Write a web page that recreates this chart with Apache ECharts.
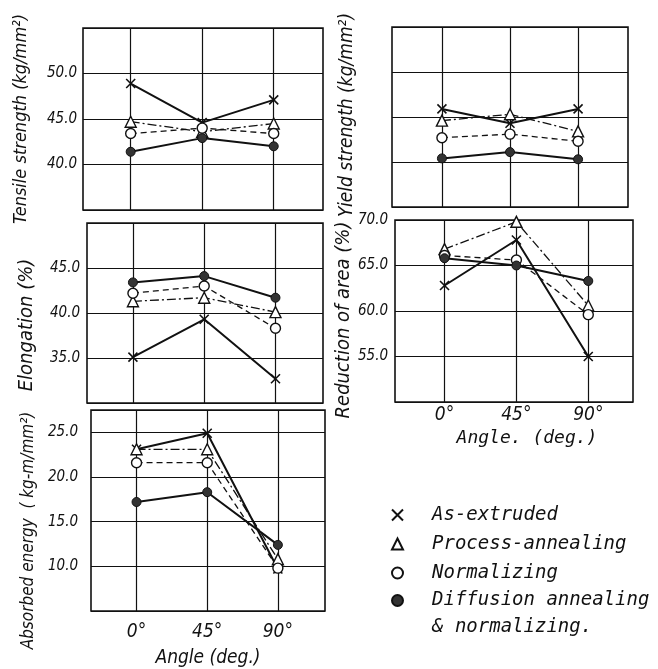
<!DOCTYPE html>
<html><head><meta charset="utf-8">
<script src="https://cdn.jsdelivr.net/npm/echarts@6/dist/echarts.min.js"></script>
<style>html,body{margin:0;padding:0;background:#fff}#c{width:658px;height:669px}</style>
</head><body><div id="c"></div>
<script>
// ---- data ----
const angles = [0, 45, 90];
const angleTicks = [0, 45, 90];
const seriesNames = ['As-extruded', 'Process-annealing', 'Normalizing', 'Diffusion annealing\n& normalizing.'];

const tensileAsExtruded = [48.9, 44.6, 47.1];
const tensileProcess    = [44.7, 43.6, 44.5];
const tensileNormal     = [43.4, 44.0, 43.4];
const tensileDiffusion  = [41.4, 42.9, 42.0];

const yieldAsExtruded = [45.9, 44.3, 45.9];
const yieldProcess    = [44.6, 45.3, 43.4];
const yieldNormal     = [42.7, 43.1, 42.3];
const yieldDiffusion  = [40.4, 41.1, 40.3];

const elongAsExtruded = [35.1, 39.3, 32.7];
const elongProcess    = [41.3, 41.7, 40.1];
const elongNormal     = [42.2, 43.0, 38.3];
const elongDiffusion  = [43.4, 44.1, 41.7];

const reductionAsExtruded = [62.8, 67.8, 55.0];
const reductionProcess    = [66.8, 69.8, 60.6];
const reductionNormal     = [66.1, 65.6, 59.6];
const reductionDiffusion  = [65.8, 65.0, 63.3];

const energyAsExtruded = [23.1, 24.9, 9.7];
const energyProcess    = [23.1, 23.1, 10.8];
const energyNormal     = [21.6, 21.6, 9.8];
const energyDiffusion  = [17.2, 18.3, 12.4];

// ---- styles / layout ----
const NUMFONT = "'Liberation Sans Narrow','DejaVu Sans Condensed',sans-serif";
const HAND = "'DejaVu Sans Condensed','Liberation Sans Narrow',sans-serif";
const MONO = "'DejaVu Sans Mono','Liberation Mono',monospace";
const INK = '#111';
const crossPath = 'path://M0,0L10,10M10,0L0,10';

const seriesStyles = [
  {symbol: crossPath, symbolSize: 9, itemStyle: {color: 'rgba(0,0,0,0)', borderColor: INK, borderWidth: 1.6}, lineStyle: {color: INK, width: 2, type: 'solid'}},
  {symbol: 'triangle', symbolSize: 11, itemStyle: {color: '#fff', borderColor: INK, borderWidth: 1.4}, lineStyle: {color: INK, width: 1.3, type: [9, 3, 2, 3]}},
  {symbol: 'circle', symbolSize: 10, itemStyle: {color: '#fff', borderColor: INK, borderWidth: 1.4}, lineStyle: {color: INK, width: 1.3, type: [6, 4]}},
  {symbol: 'circle', symbolSize: 9, itemStyle: {color: '#333', borderColor: INK, borderWidth: 1}, lineStyle: {color: INK, width: 2, type: 'solid'}}
];

const panels = [
  {grid: {left: 83, top: 28, width: 240, height: 182}, xr: [-30, 121], yr: [35, 55], yLabels: true, maxLabel: false, xLabels: false,
   name: 'Tensile strength (kg/mm²)', nameSize: 18, nameGap: 53, namePad: [0, 0, 0, 0], yLabelMargin: 6,
   data: [tensileAsExtruded, tensileProcess, tensileNormal, tensileDiffusion]},
  {grid: {left: 392, top: 27, width: 236, height: 180}, xr: [-33, 123], yr: [35, 55], yLabels: false, maxLabel: false, xLabels: false,
   name: 'Yield strength (kg/mm²)', nameSize: 19, nameGap: 35, namePad: [0, 0, 0, 4], yLabelMargin: 6,
   data: [yieldAsExtruded, yieldProcess, yieldNormal, yieldDiffusion]},
  {grid: {left: 87, top: 223, width: 236, height: 180}, xr: [-29, 120], yr: [30, 50], yLabels: true, maxLabel: false, xLabels: false,
   name: 'Elongation (%)', nameSize: 20, nameGap: 50, namePad: [0, 24, 0, 0], yLabelMargin: 7,
   data: [elongAsExtruded, elongProcess, elongNormal, elongDiffusion]},
  {grid: {left: 395, top: 220, width: 238, height: 182}, xr: [-31, 118], yr: [50, 70], yLabels: true, maxLabel: true, xLabels: true,
   name: 'Reduction of area (%)', nameSize: 20, nameGap: 38, namePad: [0, 18, 0, 0], yLabelMargin: 7,
   xName: 'Angle. (deg.)', xNameFont: MONO, xNameSize: 18, xNameGap: 27, xLabelMargin: 4, xNamePad: [0, 0, 0, 26],
   data: [reductionAsExtruded, reductionProcess, reductionNormal, reductionDiffusion]},
  {grid: {left: 91, top: 410, width: 234, height: 203}, xr: [-29, 120], yr: [5, 27.5], yLabels: true, maxLabel: false, xLabels: true,
   name: 'Absorbed energy  ( kg-m/mm²)', nameSize: 17, nameGap: 54, namePad: [0, 40, 0, 0], yLabelMargin: 13,
   xName: 'Angle (deg.)', xNameFont: HAND, xNameSize: 19, xNameGap: 38, xLabelMargin: 12, xNamePad: [0, 0, 0, 0],
   data: [energyAsExtruded, energyProcess, energyNormal, energyDiffusion]}
];

const grids = [], xAxes = [], yAxes = [], series = [];
panels.forEach((p, i) => {
  grids.push(Object.assign({show: true, borderColor: INK, borderWidth: 1.6, backgroundColor: '#fff'}, p.grid));
  xAxes.push({
    type: 'value', gridIndex: i, min: p.xr[0], max: p.xr[1],
    axisLine: {show: false},
    axisTick: {show: false, customValues: angleTicks},
    splitLine: {show: true, lineStyle: {color: INK, width: 1.2}},
    axisLabel: {show: p.xLabels, customValues: angleTicks, formatter: v => v + '°', margin: p.xLabelMargin || 8,
      color: INK, fontFamily: HAND, fontStyle: 'italic', fontSize: 19},
    name: p.xName || '', nameLocation: 'middle', nameGap: p.xNameGap || 20,
    nameTextStyle: {color: INK, fontFamily: p.xNameFont || HAND, fontStyle: 'italic', fontSize: p.xNameSize || 18, padding: p.xNamePad || 0}
  });
  yAxes.push({
    type: 'value', gridIndex: i, min: p.yr[0], max: p.yr[1], interval: 5,
    axisLine: {show: false}, axisTick: {show: false},
    splitLine: {show: true, lineStyle: {color: INK, width: 1.2}},
    axisLabel: {show: p.yLabels, showMinLabel: false, showMaxLabel: p.maxLabel, margin: p.yLabelMargin,
      formatter: v => v.toFixed(1), color: INK, fontFamily: NUMFONT, fontStyle: 'italic', fontSize: 15},
    name: p.name, nameLocation: 'middle', nameGap: p.nameGap,
    nameTextStyle: {color: INK, fontFamily: HAND, fontStyle: 'italic', fontSize: p.nameSize, padding: p.namePad}
  });
  p.data.forEach((vals, k) => {
    const st = seriesStyles[k];
    series.push({
      type: 'line', name: seriesNames[k], xAxisIndex: i, yAxisIndex: i,
      data: angles.map((a, j) => [a, vals[j]]),
      symbol: st.symbol, symbolSize: st.symbolSize, showAllSymbol: true,
      itemStyle: st.itemStyle, lineStyle: st.lineStyle,
      emphasis: {disabled: true}, animation: false, z: 3
    });
  });
});

const legendText = {color: INK, fontFamily: MONO, fontStyle: 'italic', fontSize: 19, lineHeight: 20, padding: [0, 0, 0, 24]};
const chart = echarts.init(document.getElementById('c'));
chart.setOption({
  backgroundColor: '#fff',
  animation: false,
  grid: grids, xAxis: xAxes, yAxis: yAxes, series: series,
  legend: [{
    orient: 'vertical', left: 386, top: 500, padding: 5,
    itemWidth: 11, itemHeight: 11, itemGap: 9, selectedMode: false,
    textStyle: legendText,
    data: [
      {name: seriesNames[0], icon: crossPath},
      {name: seriesNames[1], icon: 'triangle'},
      {name: seriesNames[2], icon: 'circle'}
    ]
  }, {
    orient: 'vertical', left: 386, top: 555, padding: 5, height: 110,
    itemWidth: 11, itemHeight: 11, selectedMode: false,
    // a blank leading line keeps the marker level with the first text line
    formatter: name => ' \n' + name,
    textStyle: Object.assign({}, legendText, {lineHeight: 27}),
    data: [{name: seriesNames[3], icon: 'circle'}]
  }]
});
</script></body></html>
